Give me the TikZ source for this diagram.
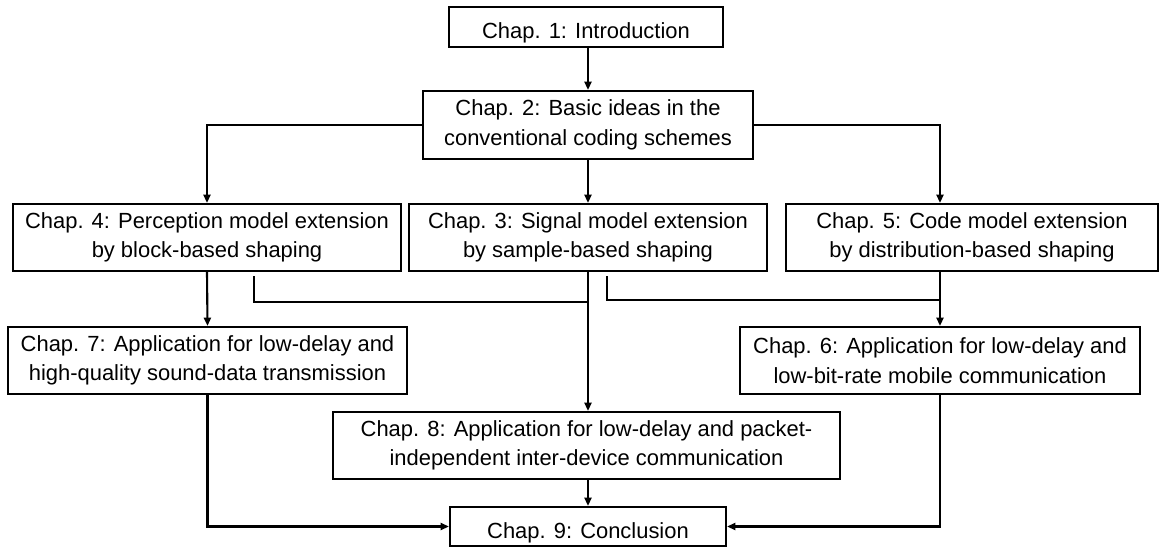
\documentclass[tikz,border=0pt]{standalone}
\usepackage{fontspec}
\setmainfont{Liberation Sans}
\usetikzlibrary{arrows.meta}

\tikzset{
  chap/.style={draw=black, line width=1.4pt, align=center, inner sep=0pt,
    font=\fontsize{15.6}{21}\selectfont,
    execute at begin node={\rule{0pt}{20pt}}},
  arr/.style={line width=1.5pt, -{Triangle[length=6pt,width=5pt]}},
  link/.style={line width=1.5pt}
}

\begin{document}
\begin{tikzpicture}[x=0.025cm, y=-0.025cm]
\useasboundingbox (0,0) rectangle (1160,547);
% chapters
\node[chap, minimum width=6.85cm, minimum height=1cm] (c1) at (586,27) {Chap. 1: Introduction};
\node[chap, minimum width=8.225cm, minimum height=1.7cm] (c2) at (588,125) {Chap. 2: Basic ideas in the\\conventional coding schemes};
\node[chap, minimum width=9.7cm, minimum height=1.675cm] (c4) at (207,237.5) {Chap. 4: Perception model extension\\by block-based shaping};
\node[chap, minimum width=8.95cm, minimum height=1.675cm] (c3) at (588,237.5) {Chap. 3: Signal model extension\\by sample-based shaping};
\node[chap, minimum width=9.3cm, minimum height=1.675cm] (c5) at (972,237.5) {Chap. 5: Code model extension\\by distribution-based shaping};
\node[chap, minimum width=9.975cm, minimum height=1.675cm] (c7) at (207.5,360.5) {Chap. 7: Application for low-delay and\\high-quality sound-data transmission};
\node[chap, minimum width=10cm, minimum height=1.675cm] (c6) at (940,360.5) {Chap. 6: Application for low-delay and\\low-bit-rate mobile communication};
\node[chap, minimum width=12.675cm, minimum height=1.675cm] (c8) at (586.5,445.5) {Chap. 8: Application for low-delay and packet-\\independent inter-device communication};
\node[chap, minimum width=6.9cm, minimum height=0.975cm] (c9) at (588,526.5) {Chap. 9: Conclusion};
% junctions
\coordinate (s4) at (254,276);
\coordinate (jl) at (588,302);
\coordinate (s3) at (607,276);
\coordinate (jr) at (940,300);
% arrows
\draw[arr] (c2.north |- c1.south) -- (c2.north);
\draw[arr] (c2.west) -| (c4.north);
\draw[arr] (c2.south) -- (c3.north);
\draw[arr] (c2.east) -| (c6.north |- c5.north);
\draw[arr] (c4.south) -- (c7.north);
\draw[arr] (c6.north |- c5.south) -- (c6.north);
\draw[arr] (c3.south) -- (c3.south |- c8.north);
\draw[link] (s4) |- (jl);
\draw[link] (s3) |- (jr);
\draw[arr] (c7.south) |- (c9.west);
\draw[arr] (c6.south) |- (c9.east);
\draw[arr] (c9.north |- c8.south) -- (c9.north);
\end{tikzpicture}
\end{document}
